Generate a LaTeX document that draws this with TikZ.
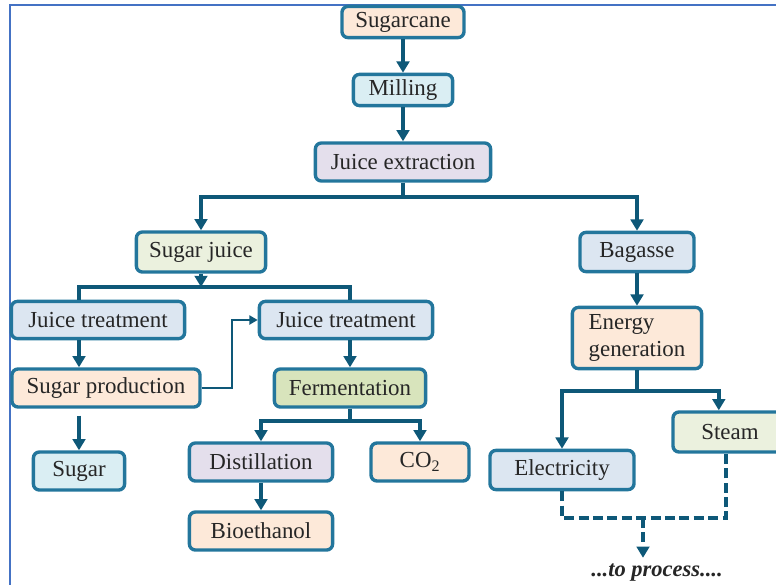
\documentclass[tikz,border=0pt]{standalone}
\usepackage{fontspec}
\setmainfont{Liberation Serif}
\usetikzlibrary{arrows.meta}

\definecolor{boxline}{RGB}{35,118,156}
\definecolor{arrline}{RGB}{14,88,120}
\definecolor{framecol}{RGB}{68,114,196}
\definecolor{peach}{RGB}{253,233,217}
\definecolor{cyanbox}{RGB}{218,238,243}
\definecolor{lilac}{RGB}{228,223,236}
\definecolor{lgreen}{RGB}{235,241,222}
\definecolor{lblue}{RGB}{220,230,241}
\definecolor{mgreen}{RGB}{216,228,188}
\definecolor{txt}{RGB}{38,38,38}

\tikzset{
  box/.style={draw=boxline, line width=2.4pt, rounded corners=0.15cm, fill=#1,
    text=txt, inner sep=2pt, minimum height=0.95cm,
    font=\fontsize{16.3}{19}\selectfont},
  line/.style={draw=arrline, line width=2.7pt},
  arr/.style={line, -{Triangle[width=9pt,length=8pt]}},
  thinarr/.style={draw=arrline, line width=1.6pt, -{Triangle[width=6.5pt,length=6pt]}},
  dashline/.style={line, dash pattern=on 0.25cm off 0.11cm},
  dasharr/.style={dashline, -{Triangle[width=9pt,length=8pt]}}
}

\begin{document}
\begin{tikzpicture}[x=0.025cm, y=-0.025cm]
    \useasboundingbox (0,0) rectangle (776,585);
    \clip (0,0) rectangle (776,585);
    \draw[framecol, line width=1.7pt] (10,585) -- (10,5) -- (776,5);

    % trunk
    \node[box=peach, minimum width=3.05cm, minimum height=0.78cm] (sugarcane) at (403,22) {Sugarcane};
    \node[box=cyanbox, minimum width=2.48cm, minimum height=0.78cm] (milling) at (403,90) {Milling};
    \node[box=lilac, minimum width=4.38cm] (jext) at (403,162) {Juice extraction};
    \node[box=lgreen, minimum width=3.23cm, minimum height=1cm] (sjuice) at (201,252) {Sugar juice};
    \node[box=lblue, minimum width=2.85cm, minimum height=0.98cm] (bagasse) at (637,252) {Bagasse};

    % sugar side
    \node[box=lblue, minimum width=4.33cm, minimum height=0.93cm] (jt1) at (98,320) {Juice treatment};
    \node[box=lblue, minimum width=4.33cm, minimum height=0.93cm] (jt2) at (346,320) {Juice treatment};
    \node[box=peach, minimum width=4.7cm] (sprod) at (106,388) {Sugar production};
    \node[box=mgreen, minimum width=3.78cm] (ferm) at (350,388) {Fermentation};
    \node[box=cyanbox, minimum width=2.28cm] (sugar) at (79,471) {Sugar};
    \node[box=lilac, minimum width=3.58cm] (distil) at (261,462) {Distillation};
    \node[box=peach, minimum width=2.45cm] (co2) at (420,462) {CO\textsubscript{2}};
    \node[box=peach, minimum width=3.58cm] (bioeth) at (261,531) {Bioethanol};

    % energy side
    \node[box=peach, minimum width=3.23cm, minimum height=1.53cm, align=left] (energy) at (637,338) {Energy\\generation};
    \node[box=lblue, minimum width=3.6cm, minimum height=0.98cm] (elec) at (562,470) {Electricity};
    \node[box=lgreen, minimum width=2.85cm, minimum height=1cm] (steam) at (730,432) {Steam};
    \node[text=txt, inner sep=1pt, font=\bfseries\itshape\fontsize{16}{19}\selectfont] (proc) at (657,573) {...to process....};

    \coordinate (split1) at (403,197);
    \coordinate (split2) at (201,287);
    \coordinate (split3) at (350,421);
    \coordinate (split4) at (637,391);
    \coordinate (merge) at (643,518);

    \draw[arr] (sugarcane) -- (milling);
    \draw[arr] (milling) -- (jext);
    \draw[line] (jext) -- (split1);
    \draw[arr] (split1) -| (sjuice);
    \draw[arr] (split1) -| (bagasse);

    \draw[arr] (sjuice) -- (split2);
    \draw[line] (jt1.north -| sugar) |- (split2) -| (jt2.north -| ferm);
    \draw[arr] (jt1.south -| sugar) -- (sprod.north -| sugar);
    \draw[arr] (sprod.south -| sugar) ++(0,7) -- (sugar);
    \draw[thinarr] (sprod.east) -- ++(30,0) |- (jt2.west);
    \draw[arr] (jt2.south -| ferm) -- (ferm);
    \draw[line] (ferm) -- (split3);
    \draw[arr] (split3) -| (distil);
    \draw[arr] (split3) -| (co2);
    \draw[arr] (distil) -- (bioeth);

    \draw[arr] (bagasse) -- (energy);
    \draw[line] (energy) -- (split4);
    \draw[arr] (split4) -| (elec);
    \draw[arr] (split4) -| ([xshift=-0.28cm]steam.north);
    \draw[dashline] (elec) |- (merge) -| ([xshift=-0.1cm]steam.south);
    \draw[dasharr] (merge) -- ([yshift=0.12cm]merge |- proc.north);
\end{tikzpicture}
\end{document}
